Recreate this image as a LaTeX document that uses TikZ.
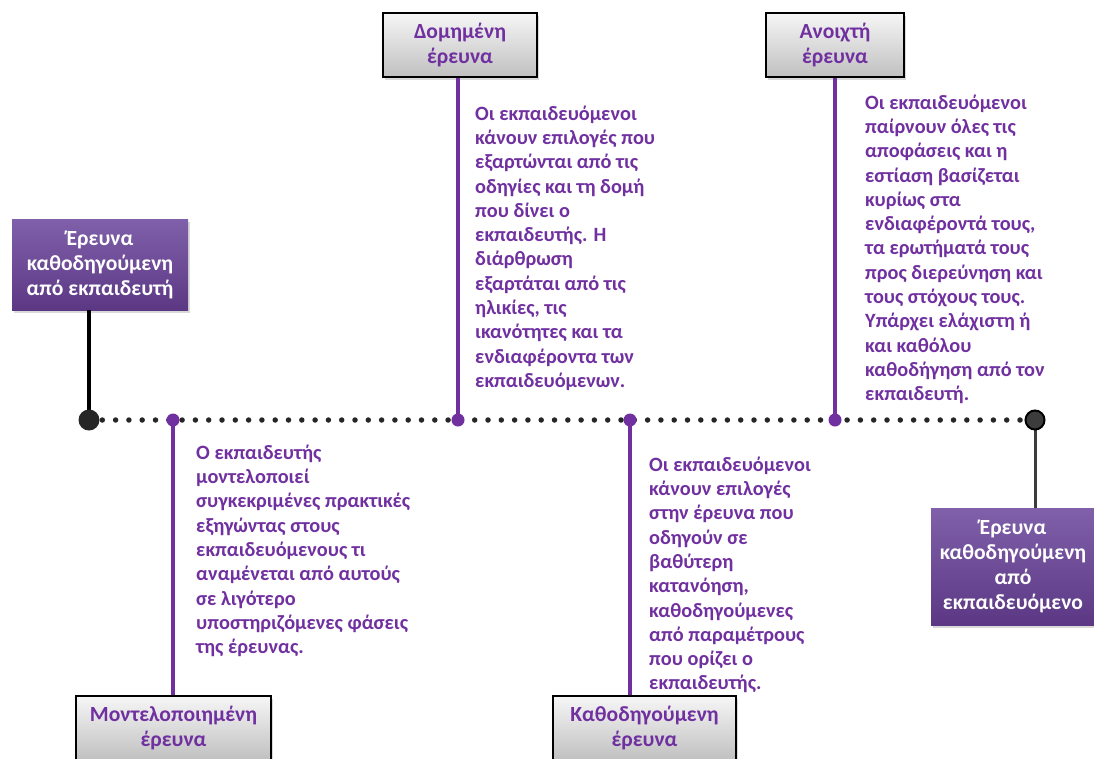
\documentclass[tikz,border=0pt]{standalone}
\usepackage{fontspec}
\setmainfont{Carlito}
\usetikzlibrary{shadows}

\definecolor{txtpurple}{HTML}{7030A0}
\definecolor{boxtop}{HTML}{8060AA}
\definecolor{boxbot}{HTML}{5C3884}
\definecolor{graytop}{HTML}{F6F6F6}
\definecolor{graybot}{HTML}{C0C0C0}
\definecolor{dotc}{HTML}{262626}
\definecolor{endgray}{HTML}{3C3C3C}

\tikzset{
  txt/.style={font=\bfseries\fontsize{20.3}{24.3}\selectfont},
  boxtxt/.style={font=\bfseries\fontsize{21.6}{25}\selectfont},
  purplebox/.style={rectangle, boxtxt, align=center, text=white, inner sep=0pt,
    top color=boxtop, bottom color=boxbot, draw=none,
    drop shadow={shadow xshift=1.5pt, shadow yshift=-3pt, opacity=0.3}},
  graybox/.style={rectangle, boxtxt, align=center, text=txtpurple, inner sep=0pt,
    top color=graytop, bottom color=graybot, draw=black, line width=1.6pt,
    drop shadow={shadow xshift=2pt, shadow yshift=-3pt, opacity=0.3}},
  desc/.style={txt, text=txtpurple, align=left, anchor=north west, inner sep=0pt},
  pdot/.style={circle, fill=txtpurple, inner sep=0pt, minimum size=13pt},
  pline/.style={draw=txtpurple, line width=3.5pt},
  timeline/.style={draw=dotc, line width=5.5pt, line cap=round,
    dash pattern=on 0pt off 13.3pt},
}

\begin{document}
\begin{tikzpicture}[x=1pt, y=-1pt]
\useasboundingbox (0,0) rectangle (1094,758);

% dotted time axis and its end points
\coordinate (Lc) at (89,420);
\coordinate (Rc) at (1035,420);
\draw[timeline] (Lc) -- (Rc);

% end boxes
\node[purplebox, minimum width=176pt, minimum height=91pt] (lbox) at (100,264.5)
  {Έρευνα\\καθοδηγούμενη\\από εκπαιδευτή};
\node[purplebox, minimum width=164pt, minimum height=117pt] (rbox) at (1013,566.5)
  {Έρευνα\\καθοδηγούμενη\\από\\εκπαιδευόμενο};

\draw[line width=3.5pt, black] (Lc) -- (Lc |- lbox.south);
\draw[line width=3pt, endgray] (Rc) -- (Rc |- rbox.north);

\node[circle, fill=dotc, inner sep=0pt, minimum size=21pt] (L) at (Lc) {};
\node[circle, fill=endgray, draw=black, line width=2pt, inner sep=0pt, minimum size=19pt] (R) at (Rc) {};

% stage boxes
\node[graybox, minimum width=154pt, minimum height=64pt] (b1) at (460,45) {Δομημένη\\έρευνα};
\node[graybox, minimum width=138pt, minimum height=64pt] (b2) at (835,45) {Ανοιχτή\\έρευνα};
\node[graybox, minimum width=195pt, minimum height=64pt] (b3) at (173.5,728) {Μοντελοποιημένη\\έρευνα};
\node[graybox, minimum width=183pt, minimum height=64pt] (b4) at (644.5,728) {Καθοδηγούμενη\\έρευνα};

% markers on the axis
\node[pdot] (p1) at (173,420) {};
\node[pdot] (p2) at (458,420) {};
\node[pdot] (p3) at (630,420) {};
\node[pdot] (p4) at (835,420) {};

\draw[pline] (p1.center) -- (p1.center |- b3.north);
\draw[pline] (p2.center) -- (p2.center |- b1.south);
\draw[pline] (p3.center) -- (p3.center |- b4.north);
\draw[pline] (p4.center) -- (p4.center |- b2.south);

% descriptions
\node[desc] (d1) at (475,105.5) {Οι εκπαιδευόμενοι\\κάνουν επιλογές που\\εξαρτώνται από τις\\οδηγίες και τη δομή\\που δίνει ο\\εκπαιδευτής. Η\\διάρθρωση\\εξαρτάται από τις\\ηλικίες, τις\\ικανότητες και τα\\ενδιαφέροντα των\\εκπαιδευόμενων.};
\node[desc] (d2) at (865,94.5) {Οι εκπαιδευόμενοι\\παίρνουν όλες τις\\αποφάσεις και η\\εστίαση βασίζεται\\κυρίως στα\\ενδιαφέροντά τους,\\τα ερωτήματά τους\\προς διερεύνηση και\\τους στόχους τους.\\Υπάρχει ελάχιστη ή\\και καθόλου\\καθοδήγηση από τον\\εκπαιδευτή.};
\node[desc] (d3) at (196,444.5) {Ο εκπαιδευτής\\μοντελοποιεί\\συγκεκριμένες πρακτικές\\εξηγώντας στους\\εκπαιδευόμενους τι\\αναμένεται από αυτούς\\σε λιγότερο\\υποστηριζόμενες φάσεις\\της έρευνας.};
\node[desc] (d4) at (649,456.5) {Οι εκπαιδευόμενοι\\κάνουν επιλογές\\στην έρευνα που\\οδηγούν σε\\βαθύτερη\\κατανόηση,\\καθοδηγούμενες\\από παραμέτρους\\που ορίζει ο\\εκπαιδευτής.};
\end{tikzpicture}
\end{document}
